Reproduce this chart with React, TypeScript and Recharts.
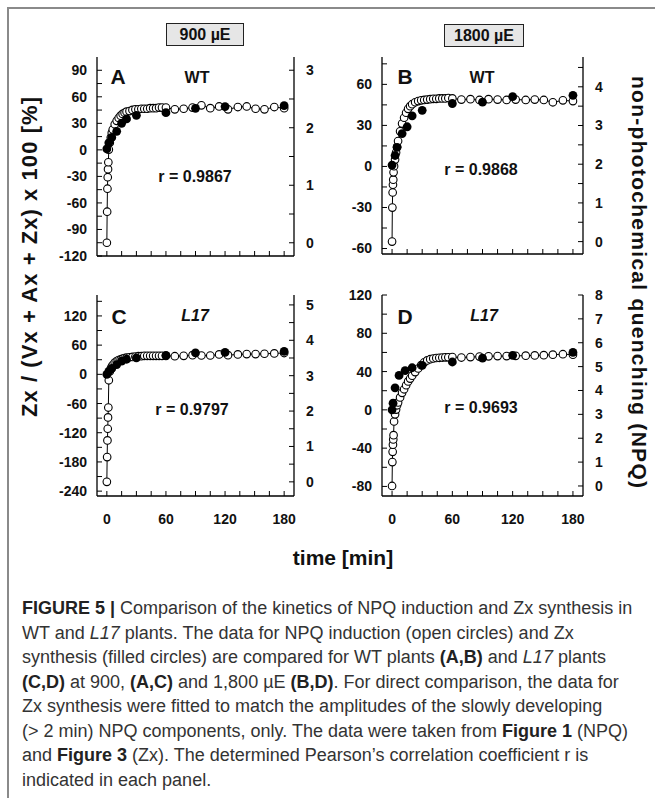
import React from 'react'
import { ComposedChart, Line, Scatter, XAxis, YAxis } from 'recharts'

// time axis (min)
const timeDomain: [number, number] = [-10, 190]
const timeTicks = [0, 15, 30, 45, 60, 75, 90, 105, 120, 135, 150, 165, 180]
const timeLabels = [0, 60, 120, 180]

// NPQ sampling times (open circles), same protocol in all panels
const npqTimes = [0, 0.3, 0.6, 0.9, 1.2, 1.5, 2, 3, 4, 5, 6, 8, 10, 12, 14, 16, 18, 20, 23, 26, 29, 32, 35, 38, 41, 44, 47, 50, 53, 56, 60,
  69, 78, 87, 96, 105, 114, 123, 133, 142, 151, 160, 170, 180]

// A: WT, 900 µE
const aNpq = [0, 0.54, 0.94, 1.14, 1.28, 1.4, 1.62, 1.74, 1.83, 1.91, 1.97, 2.06, 2.12, 2.17, 2.21, 2.24, 2.26, 2.28, 2.29, 2.31, 2.32, 2.32, 2.33, 2.33, 2.33, 2.34, 2.34, 2.34, 2.35, 2.35, 2.35,
  2.32, 2.33, 2.35, 2.39, 2.34, 2.37, 2.32, 2.36, 2.37, 2.33, 2.32, 2.36, 2.34]
const aZxT = [0, 2, 5, 10, 15, 20, 30, 60, 90, 120, 180]
const aZx = [1, 8, 14, 21, 30, 35, 39, 42, 47, 49, 50]

// B: WT, 1800 µE
const bNpq = [0, 0.88, 1.27, 1.47, 1.6, 1.79, 1.95, 2.12, 2.3, 2.45, 2.6, 2.85, 3.05, 3.2, 3.33, 3.43, 3.5, 3.55, 3.6, 3.63, 3.65, 3.66, 3.67, 3.68, 3.69, 3.69, 3.7, 3.7, 3.7, 3.71, 3.7,
  3.67, 3.68, 3.66, 3.68, 3.67, 3.66, 3.67, 3.66, 3.67, 3.66, 3.6, 3.65, 3.63]
const bZxT = [0, 3, 5, 10, 15, 20, 30, 60, 90, 120, 180]
const bZx = [1, 8, 14, 24, 29, 37, 41, 46, 47, 51, 52]

// C: L17, 900 µE
const cNpq = [0, 0.7, 1.17, 1.5, 1.82, 2.1, 2.87, 3.12, 3.2, 3.26, 3.3, 3.37, 3.41, 3.44, 3.46, 3.48, 3.5, 3.51, 3.52, 3.53, 3.54, 3.55, 3.55, 3.56, 3.56, 3.56, 3.56, 3.56, 3.56, 3.56, 3.56,
  3.55, 3.56, 3.58, 3.57, 3.57, 3.6, 3.58, 3.6, 3.61, 3.61, 3.62, 3.63, 3.64]
const cZxT = [0, 2, 5, 10, 15, 20, 30, 60, 90, 120, 180]
const cZx = [0, 6, 12, 20, 27, 31, 34, 39, 44, 45, 47]

// D: L17, 1800 µE
const dNpq = [0, 1.0, 1.43, 1.73, 1.95, 2.13, 2.7, 3.0, 3.2, 3.38, 3.5, 3.71, 3.9, 4.05, 4.22, 4.38, 4.5, 4.62, 4.77, 4.92, 5.06, 5.18, 5.26, 5.31, 5.34, 5.36, 5.37, 5.38, 5.39, 5.39, 5.4,
  5.38, 5.4, 5.42, 5.43, 5.44, 5.44, 5.45, 5.46, 5.47, 5.48, 5.5, 5.52, 5.5]
const dZxT = [0, 1, 3, 7, 13, 20, 30, 60, 90, 120, 180]
const dZx = [0, 7, 23, 36, 41, 44, 46.5, 50, 54, 57, 60]

const captionLines = [
  [['b', 'FIGURE 5 |'], ['n', ' Comparison of the kinetics of NPQ induction and Zx synthesis in']],
  [['n', 'WT and '], ['i', 'L17'], ['n', ' plants. The data for NPQ induction (open circles) and Zx']],
  [['n', 'synthesis (filled circles) are compared for WT plants '], ['b', '(A,B)'], ['n', ' and '], ['i', 'L17'], ['n', ' plants']],
  [['b', '(C,D)'], ['n', ' at 900, '], ['b', '(A,C)'], ['n', ' and 1,800 µE '], ['b', '(B,D)'], ['n', '. For direct comparison, the data for']],
  [['n', 'Zx synthesis were fitted to match the amplitudes of the slowly developing']],
  [['n', '(> 2 min) NPQ components, only. The data were taken from '], ['b', 'Figure 1'], ['n', ' (NPQ)']],
  [['n', 'and '], ['b', 'Figure 3'], ['n', ' (Zx). The determined Pearson’s correlation coefficient r is']],
  [['n', 'indicated in each panel.']],
]

const FONT = '"Liberation Sans", Arial, sans-serif'
const tickStyle = { fill: '#111', fontSize: 14, fontWeight: 700, fontFamily: FONT }
const axisLine = { stroke: '#000', strokeWidth: 1.3 }
const tickLine = { stroke: '#000', strokeWidth: 1 }

const only = (labels: number[]) => (v: number) => (labels.includes(v) ? String(v) : '')

type PanelProps = {
  left: number; top: number; w: number; h: number
  npq: number[]; zxT: number[]; zx: number[]
  zxDomain: [number, number]; zxTicks: number[]; zxLabels: number[]
  npqDomain: [number, number]; npqTicks: number[]; npqLabels: number[]
  showTime: boolean
}

function Panel(p: PanelProps) {
  const open = npqTimes.map((t, i) => ({ t, npq: p.npq[i] }))
  const filled = p.zxT.map((t, i) => ({ t, zx: p.zx[i] }))
  const LW = 50, RW = 45, TOP = 14, BH = 40
  return (
    <div style={{ position: 'absolute', left: p.left - LW, top: p.top - TOP }}>
      <ComposedChart width={LW + p.w + RW} height={TOP + p.h + BH} margin={{ top: TOP, right: 0, bottom: 0, left: 0 }}>
        <XAxis xAxisId="b" type="number" dataKey="t" domain={timeDomain} ticks={timeTicks} interval={0} allowDataOverflow
          tickFormatter={p.showTime ? only(timeLabels) : () => ''} height={BH} tickSize={-5} tickMargin={23}
          axisLine={axisLine} tickLine={tickLine} tick={tickStyle} />
        <XAxis xAxisId="t" orientation="top" type="number" dataKey="t" domain={timeDomain} ticks={timeTicks} interval={0} allowDataOverflow
          tickFormatter={() => ''} height={0} tickSize={-5} tickMargin={0}
          axisLine={axisLine} tickLine={tickLine} tick={tickStyle} />
        <YAxis yAxisId="l" type="number" domain={p.zxDomain} ticks={p.zxTicks} interval={0} allowDataOverflow
          tickFormatter={only(p.zxLabels)} width={LW} tickSize={-5} tickMargin={15}
          axisLine={axisLine} tickLine={tickLine} tick={tickStyle} />
        <YAxis yAxisId="r" orientation="right" type="number" domain={p.npqDomain} ticks={p.npqTicks} interval={0} allowDataOverflow
          tickFormatter={only(p.npqLabels)} width={RW} tickSize={-5} tickMargin={17}
          axisLine={axisLine} tickLine={tickLine} tick={tickStyle} />
        <Line xAxisId="b" yAxisId="r" data={open} dataKey="npq" type="linear" stroke="#000" strokeWidth={1}
          dot={{ r: 3.8, fill: '#fff', stroke: '#000', strokeWidth: 1.1 }} activeDot={false} isAnimationActive={false} />
        <Scatter xAxisId="b" yAxisId="l" data={filled} dataKey="zx" isAnimationActive={false}
          shape={(s: any) => <circle cx={s.cx} cy={s.cy} r={4.4} fill="#000" />} />
      </ComposedChart>
    </div>
  )
}

function Label({ x, y, size, italic, children }: { x: number; y: number; size: number; italic?: boolean; children: React.ReactNode }) {
  return (
    <div style={{ position: 'absolute', left: x, top: y, transform: 'translate(-50%, -50%)', fontFamily: FONT, fontWeight: 700,
      fontSize: size, fontStyle: italic ? 'italic' : 'normal', color: '#111', whiteSpace: 'nowrap', lineHeight: 1 }}>
      {children}
    </div>
  )
}

function Box({ x, y, w, h, children }: { x: number; y: number; w: number; h: number; children: React.ReactNode }) {
  return (
    <div style={{ position: 'absolute', left: x, top: y, width: w, height: h, boxSizing: 'border-box', border: '1.5px solid #222',
      background: '#e6e6e6', fontFamily: FONT, fontWeight: 700, fontSize: 16, color: '#111', display: 'flex', alignItems: 'center',
      justifyContent: 'center' }}>
      {children}
    </div>
  )
}

export default function App() {
  const q = 0.5
  return (
    <div style={{ position: 'absolute', left: 0, top: 0, width: 655, height: 798, background: '#fff', overflow: 'hidden' }}>
      <div style={{ position: 'absolute', left: 7, top: 7, width: 660, height: 800, borderTop: '2px solid #8a8a8a', borderLeft: '2px solid #8a8a8a' }} />

      <Box x={166} y={23} w={78} h={23}>900 µE</Box>
      <Box x={444} y={24} w={80} h={23}>1800 µE</Box>

      <Panel left={97} top={57} w={197} h={199} npq={aNpq} zxT={aZxT} zx={aZx}
        zxDomain={[-120, 105]} zxTicks={[-120, -105, -90, -75, -60, -45, -30, -15, 0, 15, 30, 45, 60, 75, 90]} zxLabels={[-120, -90, -60, -30, 0, 30, 60, 90]}
        npqDomain={[-0.23, 3.23]} npqTicks={[0, q, 1, 1.5, 2, 2.5, 3]} npqLabels={[0, 1, 2, 3]} showTime={false} />
      <Panel left={382} top={57} w={201} h={197} npq={bNpq} zxT={bZxT} zx={bZx}
        zxDomain={[-64, 80]} zxTicks={[-60, -45, -30, -15, 0, 15, 30, 45, 60, 75]} zxLabels={[-60, -30, 0, 30, 60]}
        npqDomain={[-0.32, 4.77]} npqTicks={[0, q, 1, 1.5, 2, 2.5, 3, 3.5, 4, 4.5]} npqLabels={[0, 1, 2, 3, 4]} showTime={false} />
      <Panel left={97} top={295} w={197} h={201} npq={cNpq} zxT={cZxT} zx={cZx}
        zxDomain={[-250, 163]} zxTicks={[-240, -210, -180, -150, -120, -90, -60, -30, 0, 30, 60, 90, 120, 150]} zxLabels={[-240, -180, -120, -60, 0, 60, 120]}
        npqDomain={[-0.4, 5.28]} npqTicks={[0, q, 1, 1.5, 2, 2.5, 3, 3.5, 4, 4.5, 5]} npqLabels={[0, 1, 2, 3, 4, 5]} showTime={true} />
      <Panel left={382} top={295} w={201} h={201} npq={dNpq} zxT={dZxT} zx={dZx}
        zxDomain={[-90, 120]} zxTicks={[-80, -60, -40, -20, 0, 20, 40, 60, 80, 100, 120]} zxLabels={[-80, -40, 0, 40, 80, 120]}
        npqDomain={[-0.42, 8]} npqTicks={[0, 1, 2, 3, 4, 5, 6, 7, 8]} npqLabels={[0, 1, 2, 3, 4, 5, 6, 7, 8]} showTime={true} />

      <Label x={118} y={76} size={21}>A</Label>
      <Label x={197} y={78} size={16}>WT</Label>
      <Label x={195} y={177} size={16}>r = 0.9867</Label>
      <Label x={405} y={76} size={21}>B</Label>
      <Label x={482} y={78} size={16}>WT</Label>
      <Label x={481} y={170} size={16}>r = 0.9868</Label>
      <Label x={119} y={316} size={21}>C</Label>
      <Label x={195} y={316} size={16} italic>L17</Label>
      <Label x={192} y={410} size={16}>r = 0.9797</Label>
      <Label x={405} y={316} size={21}>D</Label>
      <Label x={484} y={316} size={16} italic>L17</Label>
      <Label x={481} y={408} size={16}>r = 0.9693</Label>

      <svg width={655} height={798} style={{ position: 'absolute', left: 0, top: 0, pointerEvents: 'none' }}>
        <text x={29} y={265} transform="rotate(-90 29 257)" textAnchor="middle" fontFamily={FONT} fontWeight={700} fontSize={22}
          fill="#111" textLength={320} lengthAdjust="spacing">Zx / (Vx + Ax + Zx) x 100 [%]</text>
        <text x={640} y={290} transform="rotate(90 640 282)" textAnchor="middle" fontFamily={FONT} fontWeight={700} fontSize={21}
          fill="#111" textLength={412} lengthAdjust="spacing">non-photochemical quenching (NPQ)</text>
      </svg>

      <Label x={343} y={557} size={21}>time [min]</Label>

      {captionLines.map((line, i) => (
        <div key={i} style={{ position: 'absolute', left: 22, top: 597 + i * 24.5, fontFamily: FONT, fontSize: 18, color: '#333',
          whiteSpace: 'nowrap', lineHeight: '22px' }}>
          {line.map(([k, s], j) => (
            <span key={j} style={{ fontWeight: k === 'b' ? 700 : 400, fontStyle: k === 'i' ? 'italic' : 'normal', color: k === 'b' ? '#222' : '#333' }}>{s}</span>
          ))}
        </div>
      ))}
    </div>
  )
}
